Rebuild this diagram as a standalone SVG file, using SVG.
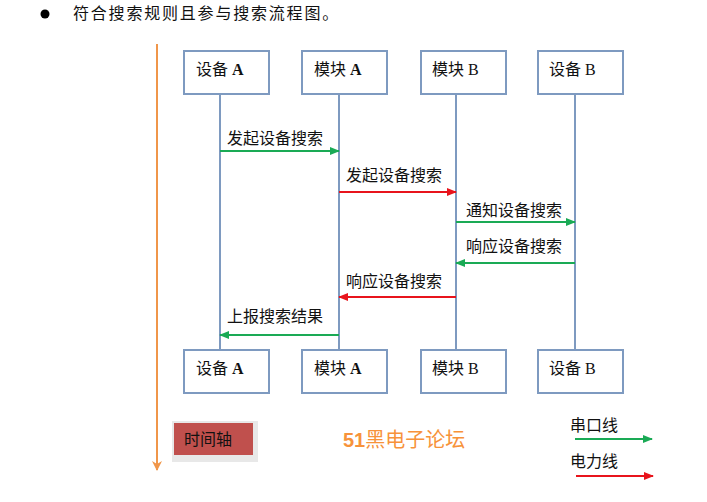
<svg xmlns="http://www.w3.org/2000/svg" width="707" height="502" viewBox="0 0 707 502">
<style>
.box{fill:#fff;stroke:#7e9ac0;stroke-width:2}
.life{stroke:#7e9ac0;stroke-width:2}
.t{font-family:"Liberation Sans","Noto Sans CJK SC",sans-serif;font-size:16px;fill:#111}
.bt{font-family:"Liberation Serif","Noto Sans CJK SC",serif;font-size:16px;fill:#111}
.g{stroke:#1aaa55;stroke-width:2;fill:none}
.r{stroke:#e8141c;stroke-width:2;fill:none}
</style>
<defs>
<marker id="ag" markerWidth="10" markerHeight="8" refX="9" refY="4" orient="auto" markerUnits="userSpaceOnUse"><path d="M0,0 L10,4 L0,8 z" fill="#1aaa55"/></marker>
<marker id="ar" markerWidth="10" markerHeight="8" refX="9" refY="4" orient="auto" markerUnits="userSpaceOnUse"><path d="M0,0 L10,4 L0,8 z" fill="#e8141c"/></marker>
<marker id="ao" markerWidth="10" markerHeight="10" refX="5" refY="9" orient="0" markerUnits="userSpaceOnUse"><path d="M0,0 L5,10 L10,0 L5,3 z" fill="#f0964a"/></marker>
</defs>
<rect width="707" height="502" fill="#fff"/>
<g id="title">
<circle cx="45" cy="14" r="4.5" fill="#000"/>
<text x="73" y="19" class="t" font-size="15" letter-spacing="1.8">符合搜索规则且参与搜索流程图。</text>
</g>
<g id="timeaxis">
<line x1="157" y1="44" x2="157" y2="470" stroke="#f0964a" stroke-width="2" marker-end="url(#ao)"/>
<rect x="172" y="421" width="86" height="41" fill="#d9d9d9" opacity="0.6"/>
<rect x="174" y="423" width="79" height="32" fill="#c0504d"/>
<text x="184" y="445" class="t">时间轴</text>
</g>
<g id="lifelines">
<line x1="220" y1="94" x2="220" y2="350" class="life"/>
<line x1="339" y1="94" x2="339" y2="350" class="life"/>
<line x1="456" y1="94" x2="456" y2="350" class="life"/>
<line x1="575" y1="94" x2="575" y2="350" class="life"/>
</g>
<g id="devA-top"><rect x="184" y="51" width="85" height="43" class="box"/><text x="196" y="75" class="bt">设备 <tspan font-weight="bold">A</tspan></text></g>
<g id="modA-top"><rect x="302" y="51" width="85" height="43" class="box"/><text x="314" y="75" class="bt">模块 <tspan font-weight="bold">A</tspan></text></g>
<g id="modB-top"><rect x="421" y="51" width="85" height="43" class="box"/><text x="432" y="75" class="bt">模块 B</text></g>
<g id="devB-top"><rect x="538" y="51" width="85" height="43" class="box"/><text x="549" y="75" class="bt">设备 B</text></g>
<g id="devA-bot"><rect x="184" y="350" width="85" height="43" class="box"/><text x="196" y="374" class="bt">设备 <tspan font-weight="bold">A</tspan></text></g>
<g id="modA-bot"><rect x="302" y="350" width="85" height="43" class="box"/><text x="314" y="374" class="bt">模块 <tspan font-weight="bold">A</tspan></text></g>
<g id="modB-bot"><rect x="421" y="350" width="85" height="43" class="box"/><text x="432" y="374" class="bt">模块 B</text></g>
<g id="devB-bot"><rect x="538" y="350" width="85" height="43" class="box"/><text x="549" y="374" class="bt">设备 B</text></g>
<g id="connectors">
<line x1="220" y1="151" x2="339" y2="151" class="g" marker-end="url(#ag)"/>
<text x="227" y="144" class="t">发起设备搜索</text>
<line x1="339" y1="192" x2="456" y2="192" class="r" marker-end="url(#ar)"/>
<text x="346" y="181" class="t">发起设备搜索</text>
<line x1="456" y1="222" x2="575" y2="222" class="g" marker-end="url(#ag)"/>
<text x="466" y="216" class="t">通知设备搜索</text>
<line x1="575" y1="263" x2="456" y2="263" class="g" marker-end="url(#ag)"/>
<text x="466" y="252" class="t">响应设备搜索</text>
<line x1="456" y1="297" x2="339" y2="297" class="r" marker-end="url(#ar)"/>
<text x="346" y="287" class="t">响应设备搜索</text>
<line x1="339" y1="335" x2="220" y2="335" class="g" marker-end="url(#ag)"/>
<text x="227" y="322" class="t">上报搜索结果</text>
</g>
<g id="watermark"><text x="343" y="447" font-family="Liberation Sans,'Noto Sans CJK SC',sans-serif" font-size="20" fill="#f7923a"><tspan font-weight="bold">51</tspan>黑电子论坛</text></g>
<g id="legend">
<text x="570" y="431" class="t">串口线</text>
<line x1="575" y1="439" x2="652" y2="439" class="g" marker-end="url(#ag)"/>
<text x="570" y="467" class="t">电力线</text>
<line x1="576" y1="476" x2="653" y2="476" class="r" marker-end="url(#ar)"/>
</g>
</svg>
